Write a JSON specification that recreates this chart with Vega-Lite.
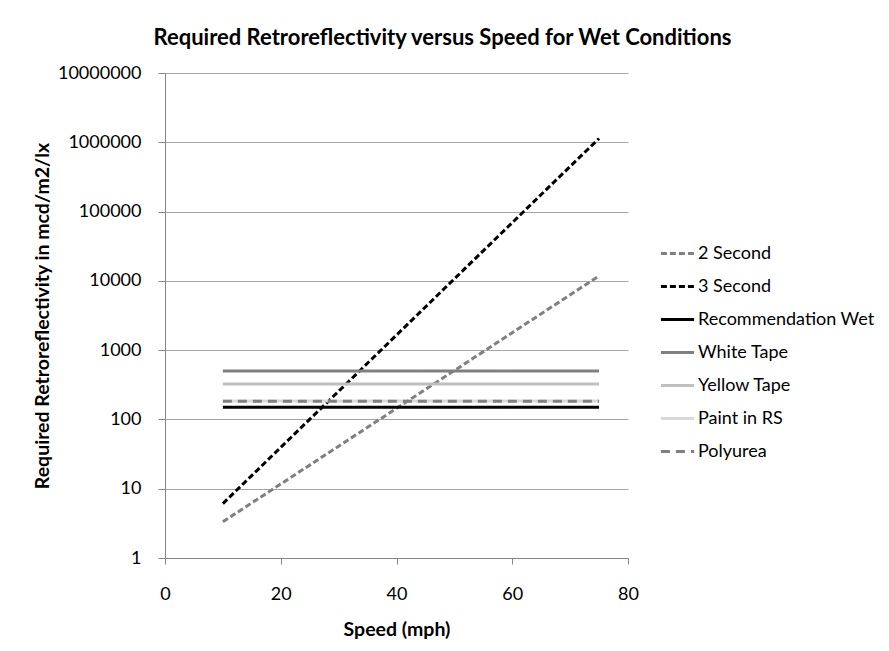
{
  "$schema": "https://vega.github.io/schema/vega-lite/v6.json",
  "width": 463,
  "height": 485,
  "autosize": "none",
  "padding": {"left": 165, "top": 73, "right": 261, "bottom": 93},
  "background": "white",
  "title": {
    "text": "Required Retroreflectivity versus Speed for Wet Conditions",
    "font": "Lato",
    "fontSize": 22,
    "fontWeight": "bold",
    "color": "#000000",
    "anchor": "middle",
    "dx": 46,
    "offset": 14
  },
  "config": {
    "view": {"stroke": null},
    "font": "Lato"
  },
  "data": {
    "values": [
      {"speed": 10, "value": 3.33, "series": "2 Second"},
      {"speed": 20, "value": 11.7, "series": "2 Second"},
      {"speed": 30, "value": 41.1, "series": "2 Second"},
      {"speed": 40, "value": 144.5, "series": "2 Second"},
      {"speed": 50, "value": 508, "series": "2 Second"},
      {"speed": 60, "value": 1786, "series": "2 Second"},
      {"speed": 70, "value": 6280, "series": "2 Second"},
      {"speed": 75, "value": 11800, "series": "2 Second"},
      {"speed": 10, "value": 6.1, "series": "3 Second"},
      {"speed": 20, "value": 39.5, "series": "3 Second"},
      {"speed": 30, "value": 255, "series": "3 Second"},
      {"speed": 40, "value": 1650, "series": "3 Second"},
      {"speed": 50, "value": 10700, "series": "3 Second"},
      {"speed": 60, "value": 69200, "series": "3 Second"},
      {"speed": 70, "value": 448000, "series": "3 Second"},
      {"speed": 75, "value": 1135000, "series": "3 Second"},
      {"speed": 10, "value": 150, "series": "Recommendation Wet"},
      {"speed": 75, "value": 150, "series": "Recommendation Wet"},
      {"speed": 10, "value": 500, "series": "White Tape"},
      {"speed": 75, "value": 500, "series": "White Tape"},
      {"speed": 10, "value": 325, "series": "Yellow Tape"},
      {"speed": 75, "value": 325, "series": "Yellow Tape"},
      {"speed": 10, "value": 185, "series": "Paint in RS"},
      {"speed": 75, "value": 185, "series": "Paint in RS"},
      {"speed": 10, "value": 183, "series": "Polyurea"},
      {"speed": 75, "value": 183, "series": "Polyurea"}
    ]
  },
  "mark": {"type": "line", "strokeWidth": 3, "strokeCap": "butt"},
  "encoding": {
    "x": {
      "field": "speed",
      "type": "quantitative",
      "scale": {"domain": [0, 80], "nice": false},
      "axis": {
        "title": "Speed (mph)",
        "titleFont": "Lato",
        "titleFontSize": 19.5,
        "titleFontWeight": "bold",
        "titleColor": "#000000",
        "titlePadding": 17,
        "values": [0, 20, 40, 60, 80],
        "grid": false,
        "domainColor": "#868686",
        "tickColor": "#868686",
        "tickSize": 6,
        "labelFont": "Lato",
        "labelFontSize": 18,
        "labelColor": "#000000",
        "labelPadding": 21,
        "labelFlush": false
      }
    },
    "y": {
      "field": "value",
      "type": "quantitative",
      "scale": {"type": "log", "domain": [1, 10000000], "nice": false},
      "axis": {
        "title": "Required Retroreflectivity in mcd/m2/lx",
        "titleFont": "Lato",
        "titleFontSize": 19.5,
        "titleFontWeight": "bold",
        "titleColor": "#000000",
        "titlePadding": 5,
        "values": [1, 10, 100, 1000, 10000, 100000, 1000000, 10000000],
        "format": "d",
        "grid": true,
        "gridColor": "#a6a6a6",
        "domainColor": "#868686",
        "tickColor": "#868686",
        "tickSize": 7,
        "labelFont": "Lato",
        "labelFontSize": 18,
        "labelColor": "#000000",
        "labelPadding": 17,
        "labelFlush": false
      }
    },
    "color": {
      "field": "series",
      "type": "nominal",
      "scale": {
        "domain": ["2 Second", "3 Second", "Recommendation Wet", "White Tape", "Yellow Tape", "Paint in RS", "Polyurea"],
        "range": ["#808080", "#000000", "#000000", "#808080", "#bfbfbf", "#d9d9d9", "#808080"]
      },
      "legend": {
        "title": null,
        "orient": "none",
        "legendX": 494,
        "legendY": 162,
        "symbolType": "stroke",
        "symbolSize": 1100,
        "symbolStrokeWidth": 3,
        "labelFont": "Lato",
        "labelFontSize": 18,
        "labelColor": "#000000",
        "labelOffset": 2,
        "labelLimit": 300,
        "rowPadding": 5
      }
    },
    "strokeDash": {
      "field": "series",
      "type": "nominal",
      "scale": {
        "domain": ["2 Second", "3 Second", "Recommendation Wet", "White Tape", "Yellow Tape", "Paint in RS", "Polyurea"],
        "range": [[6, 3], [6, 3], [1, 0], [1, 0], [1, 0], [1, 0], [9, 6]]
      },
      "legend": {
        "title": null,
        "orient": "none",
        "legendX": 494,
        "legendY": 162,
        "symbolType": "stroke",
        "symbolSize": 1100,
        "symbolStrokeWidth": 3,
        "labelFont": "Lato",
        "labelFontSize": 18,
        "labelColor": "#000000",
        "labelOffset": 2,
        "labelLimit": 300,
        "rowPadding": 5
      }
    }
  }
}
